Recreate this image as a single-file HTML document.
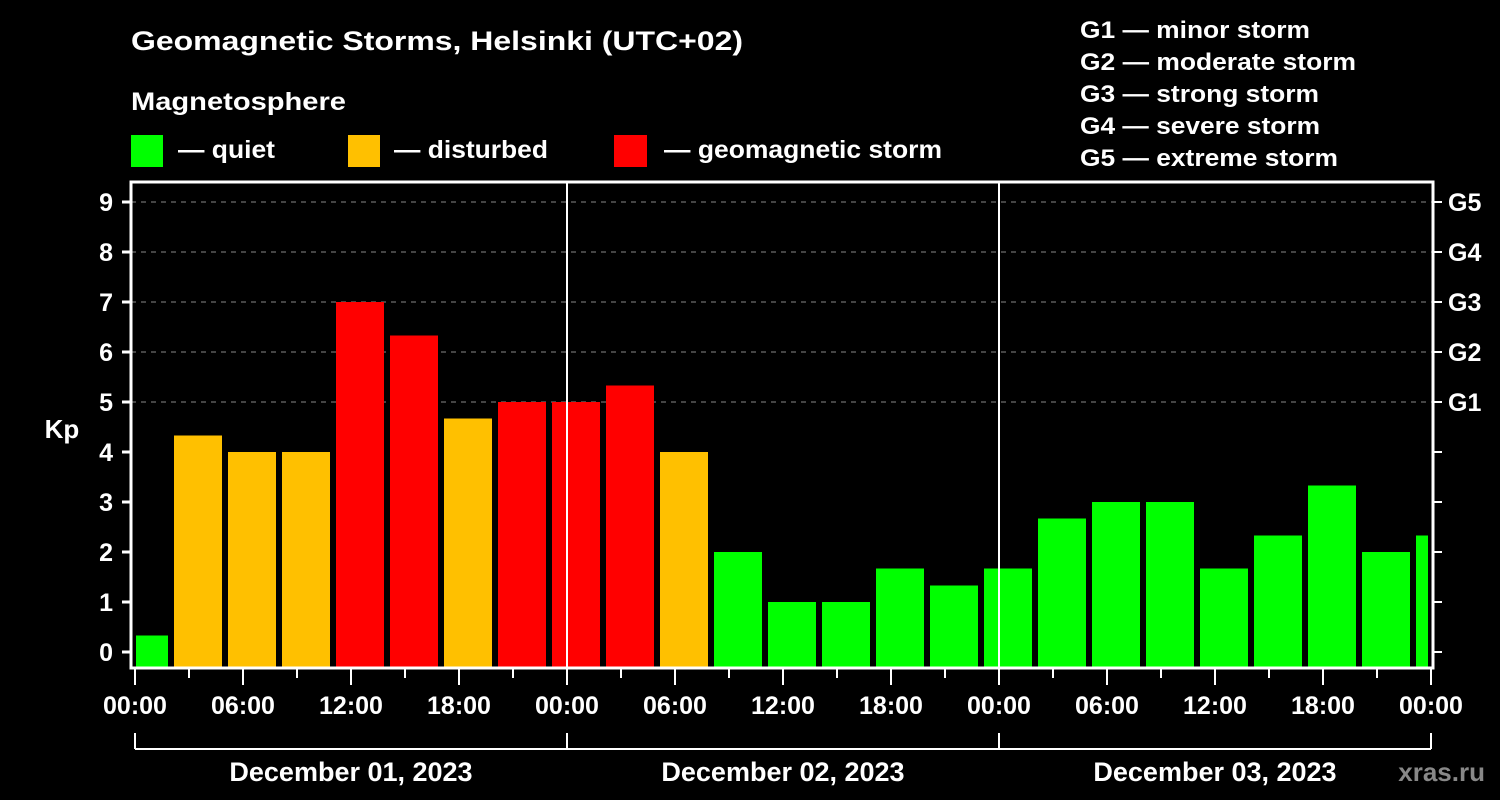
<!DOCTYPE html>
<html><head><meta charset="utf-8"><style>
html,body{margin:0;padding:0;background:#000;}
svg{display:block;font-family:"Liberation Sans",Arial,sans-serif;font-weight:bold;}
</style></head><body>
<svg id="chart" width="1500" height="800" viewBox="0 0 1500 800" xmlns="http://www.w3.org/2000/svg">
<rect width="1500" height="800" fill="#000"/>
<text x="131" y="50" fill="#fff" font-size="27" textLength="612" lengthAdjust="spacingAndGlyphs">Geomagnetic Storms, Helsinki (UTC+02)</text>
<text x="131" y="110" fill="#fff" font-size="25" textLength="215" lengthAdjust="spacingAndGlyphs">Magnetosphere</text>
<g>
<rect x="131" y="135" width="32" height="32" fill="#00ff00"/>
<text x="178" y="158" fill="#fff" font-size="25" textLength="97" lengthAdjust="spacingAndGlyphs">— quiet</text>
<rect x="348" y="135" width="32" height="32" fill="#ffc000"/>
<text x="394" y="158" fill="#fff" font-size="25" textLength="154" lengthAdjust="spacingAndGlyphs">— disturbed</text>
<rect x="614" y="135" width="33" height="32" fill="#ff0000"/>
<text x="664" y="158" fill="#fff" font-size="25" textLength="278" lengthAdjust="spacingAndGlyphs">— geomagnetic storm</text>
</g>
<g fill="#fff" font-size="24">
<text x="1080" y="38" textLength="230" lengthAdjust="spacingAndGlyphs">G1 — minor storm</text>
<text x="1080" y="70" textLength="276" lengthAdjust="spacingAndGlyphs">G2 — moderate storm</text>
<text x="1080" y="102" textLength="239" lengthAdjust="spacingAndGlyphs">G3 — strong storm</text>
<text x="1080" y="134" textLength="240" lengthAdjust="spacingAndGlyphs">G4 — severe storm</text>
<text x="1080" y="166" textLength="258" lengthAdjust="spacingAndGlyphs">G5 — extreme storm</text>
</g>
<text x="62" y="438" fill="#fff" font-size="26" text-anchor="middle">Kp</text>
<text x="1485" y="781" fill="#888" font-size="26" text-anchor="end">xras.ru</text>
<g id="plot"></g>
</svg>
<script>
const kpValues = [0.33,4.33,4,4,7,6.33,4.67,5,5,5.33,4,2,1,1,1.67,1.33,1.67,2.67,3,3,1.67,2.33,3.33,2,2.33];
const yTicks = [0,1,2,3,4,5,6,7,8,9];
const gLabels = ["G1","G2","G3","G4","G5"];
const gLevels = [5,6,7,8,9];
const xTickLabels = ["00:00","06:00","12:00","18:00","00:00","06:00","12:00","18:00","00:00","06:00","12:00","18:00","00:00"];
const dayLabels = ["December 01, 2023","December 02, 2023","December 03, 2023"];

const NS="http://www.w3.org/2000/svg";
const plot=document.getElementById('plot');
const L=131,R=1433,T=182,B=668,X0=135,HPX=18; // px per hour
const y=v=>652-v*50;
const x=h=>X0+h*HPX;
function mk(tag,attrs,parent){const e=document.createElementNS(NS,tag);for(const k in attrs)e.setAttribute(k,attrs[k]);(parent||plot).appendChild(e);return e;}

// grid
gLevels.forEach((v,i)=>{
  const g=mk('line',{x1:L,x2:R,y1:y(v),y2:y(v),stroke:'#888','stroke-width':1,'stroke-dasharray':'5,5'});
  
  
});
// bars
const clip=mk('clipPath',{id:'pc'});mk('rect',{x:136,y:T,width:1292,height:B-T},clip);
const bg=mk('g',{'clip-path':'url(#pc)'});
kpValues.forEach((v,i)=>{
  const c=(v<4)?'#00ff00':(v<5?'#ffc000':'#ff0000');
  const cx=x(i*3+0.5);
  const r=mk('rect',{x:cx-24,y:y(v),width:48,height:B-y(v),fill:c},bg);
  
  
});
// day dividers
[24,48].forEach(h=>{const l=mk('line',{x1:x(h),x2:x(h),y1:T,y2:B,stroke:'#fff','stroke-width':2});

});
// frame
const fr=mk('rect',{x:L,y:T,width:R-L,height:B-T,fill:'none',stroke:'#fff','stroke-width':3});


// y ticks
yTicks.forEach(v=>{
  mk('line',{x1:L-9,x2:L,y1:y(v),y2:y(v),stroke:'#fff','stroke-width':3});
  mk('line',{x1:R,x2:R+9,y1:y(v),y2:y(v),stroke:'#fff','stroke-width':2});
  const t=mk('text',{x:113,y:y(v)+9,fill:'#fff','font-size':25,'text-anchor':'end'});t.textContent=v;
  
  
});
gLevels.forEach((v,i)=>{
  const t=mk('text',{x:1448,y:y(v)+9,fill:'#fff','font-size':25});t.textContent=gLabels[i];
  
  
});
// x ticks
for(let h=0;h<=72;h+=3){
  const major=h%6===0;
  mk('line',{x1:x(h),x2:x(h),y1:B,y2:B+(major?17:10),stroke:'#fff','stroke-width':2});
}
xTickLabels.forEach((s,i)=>{
  const t=mk('text',{x:x(i*6),y:714,fill:'#fff','font-size':25,'text-anchor':'middle'});t.textContent=s;
  
  
});
// date bracket
mk('line',{x1:x(0),x2:x(72),y1:749,y2:749,stroke:'#fff','stroke-width':2});
[0,24,48,72].forEach(h=>mk('line',{x1:x(h),x2:x(h),y1:733,y2:749,stroke:'#fff','stroke-width':2}));
dayLabels.forEach((s,i)=>{
  const t=mk('text',{x:x(i*24+12),y:781,fill:'#fff','font-size':27,'text-anchor':'middle'});t.textContent=s;
  
  
});
</script>
</body></html>
